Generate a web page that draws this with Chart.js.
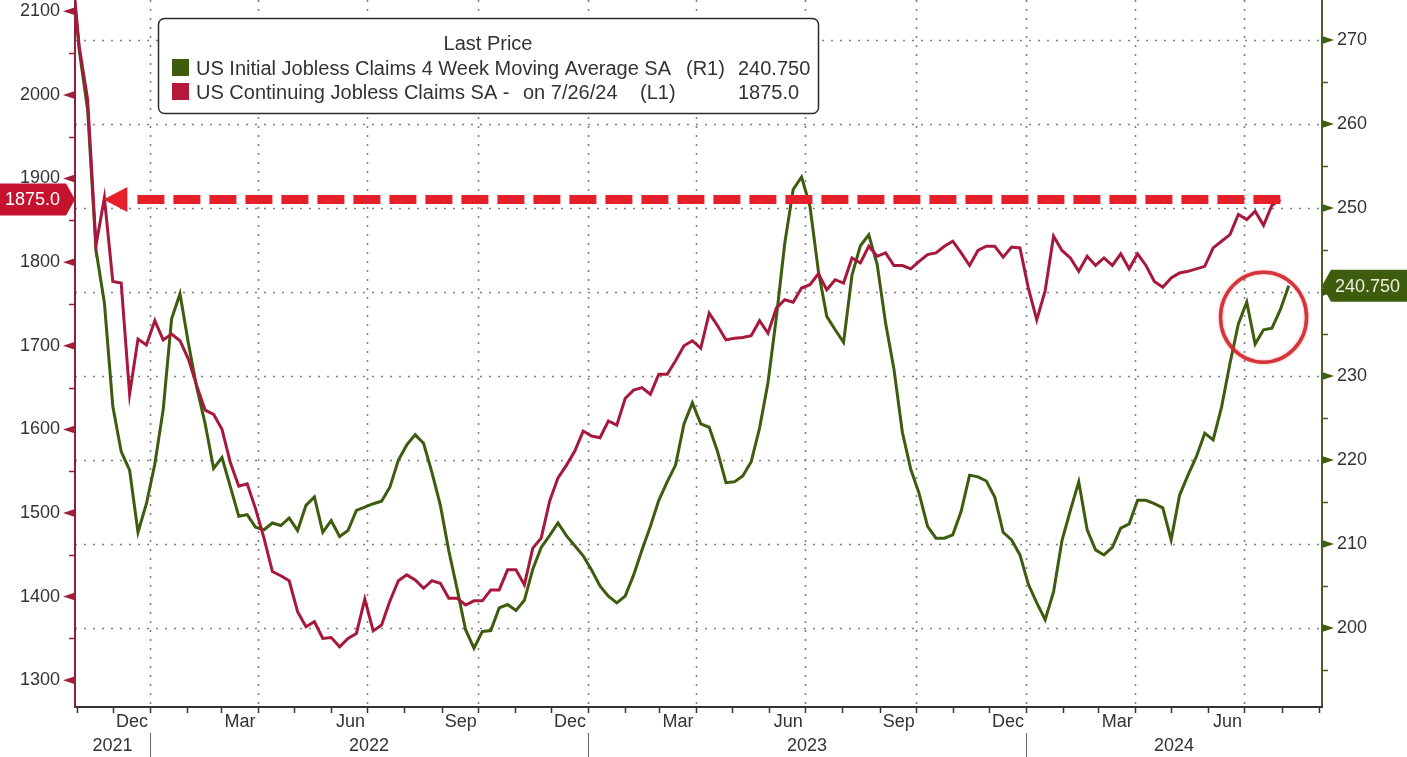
<!DOCTYPE html>
<html>
<head>
<meta charset="utf-8">
<title>US Jobless Claims</title>
<script src="https://cdn.jsdelivr.net/npm/chart.js@4.4.1/dist/chart.umd.min.js"></script>
<style>
  html, body { margin: 0; padding: 0; background: #fff; }
  #wrap { position: relative; width: 1407px; height: 757px; }
</style>
</head>
<body>
<div id="wrap"><canvas id="claimsChart" width="1407" height="757"></canvas></div>
<script>
// --- Data (weekly, first reading = week of 2021-10-27) ---
const START_DATE = Date.UTC(2021, 9, 27);

// US Continuing Jobless Claims SA (thousands, left axis L1)
const continuingClaims = [
  2165, 2058, 1995, 1820, 1877, 1777, 1775, 1642, 1708, 1701,
  1730, 1707, 1714, 1706, 1684, 1652, 1623, 1618, 1600, 1560,
  1532, 1535, 1505, 1470, 1430, 1425, 1419, 1382, 1364, 1370,
  1350, 1351, 1340, 1350, 1356, 1397, 1359, 1366, 1395, 1419,
  1426, 1420, 1410, 1419, 1416, 1398, 1398, 1390, 1395, 1395,
  1408, 1408, 1432, 1432, 1414, 1458, 1470, 1514, 1542, 1557,
  1574, 1598, 1592, 1590, 1610, 1605, 1637, 1647, 1650, 1642,
  1666, 1666, 1682, 1700, 1706, 1697, 1739, 1724, 1707, 1709,
  1710, 1712, 1730, 1715, 1745, 1755, 1752, 1769, 1773, 1786,
  1767, 1779, 1775, 1805, 1799, 1819, 1807, 1811, 1796, 1796,
  1792, 1801, 1809, 1811, 1819, 1825, 1811, 1796, 1814, 1819,
  1819, 1806, 1818, 1817, 1769, 1731, 1766, 1831, 1814, 1805,
  1789, 1807, 1796, 1805, 1796, 1810, 1792, 1810, 1796, 1777,
  1770, 1781, 1787, 1789, 1792, 1795, 1817, 1825, 1833, 1857,
  1851, 1861, 1844, 1868, 1875
];

// US Initial Jobless Claims 4 Week Moving Average SA (thousands, right axis R1)
const initialClaims4wk = [
  280.0, 268.8, 261.7, 245.0, 238.7, 226.4, 221.0, 218.8, 211.4, 214.8,
  219.5, 226.0, 236.8, 239.8, 233.9, 228.6, 224.3, 219.0, 220.3, 216.8,
  213.3, 213.5, 212.0, 211.7, 212.5, 212.2, 213.1, 211.6, 214.6, 215.6,
  211.4, 212.8, 210.9, 211.6, 214.0, 214.4, 214.8, 215.1, 216.8, 220.0,
  221.8, 223.0, 222.0, 218.5, 214.6, 209.2, 204.6, 199.8, 197.6, 199.6,
  199.7, 202.4, 202.8, 202.1, 203.3, 207.0, 209.6, 211.0, 212.5, 211.0,
  209.8, 208.6, 206.9, 205.0, 203.8, 203.0, 203.8, 206.3, 209.3, 212.1,
  215.2, 217.4, 219.4, 224.3, 226.8, 224.3, 223.9, 221.0, 217.3, 217.4,
  218.1, 219.8, 223.8, 229.2, 237.0, 245.8, 252.2, 253.7, 250.2, 242.5,
  237.1, 235.5, 234.0, 242.0, 245.5, 246.8, 243.3, 236.3, 230.8, 223.3,
  218.9, 216.0, 212.1, 210.7, 210.7, 211.1, 213.9, 218.2, 218.0, 217.5,
  215.6, 211.4, 210.5, 208.7, 205.2, 203.0, 201.0, 204.3, 210.4, 214.0,
  217.4, 211.7, 209.3, 208.7, 209.6, 211.9, 212.4, 215.2, 215.2, 214.8,
  214.3, 210.5, 215.8, 218.2, 220.4, 223.2, 222.4, 226.3, 231.5, 236.2,
  238.8, 233.8, 235.5, 235.7, 237.9, 240.75
];

const leftTicks = [1300, 1400, 1500, 1600, 1700, 1800, 1900, 2000, 2100];
const leftMinorTicks = [1350, 1450, 1550, 1650, 1750, 1850, 1950, 2050];
const rightTicks = [200, 210, 220, 230, 240, 250, 260, 270];
const rightMinorTicks = [195, 205, 215, 225, 235, 245, 255, 265];
const quarterMonthNames = { 2: 'Mar', 5: 'Jun', 8: 'Sep', 11: 'Dec' };
const yearLabels = ['2021', '2022', '2023', '2024'];

const legendTitle = 'Last Price';
const seriesNames = ['US Initial Jobless Claims 4 Week Moving Average SA', 'US Continuing Jobless Claims SA -'];
const seriesNotes = ['', 'on 7/26/24'];
const seriesAxes = ['(R1)', '(L1)'];

const ARROW_WEEK = 4;        // earlier week the dashed arrow points back to
const CIRCLE_WEEK = 142;     // annotation circle around the latest initial-claims move
const CIRCLE_LEVEL = 237;

// --- Styles ---
const GREEN = '#3d5c0e';
const RED = '#a6193c';
const FONT = '"Liberation Sans", Arial, sans-serif';
const WEEK = 7 * 24 * 3600 * 1000;
const X_MIN = Date.UTC(2021, 9, 30, 12);
const X_MAX = Date.UTC(2024, 8, 3, 17);

const weekDate = i => START_DATE + i * WEEK;
const lastRed = continuingClaims[continuingClaims.length - 1];
const lastGreen = initialClaims4wk[initialClaims4wk.length - 1];

function monthStarts() {
    const out = [];
    for (let y = 2021; y <= 2024; y++) {
        for (let m = 0; m < 12; m++) {
            const t = Date.UTC(y, m, 1);
            if (t >= X_MIN && t <= X_MAX) out.push({ t, y, m });
        }
    }
    return out;
}

// fixed axis widths, no extra room for half-labels at the ends
function fixWidth(w) {
    return axis => {
        axis.width = w;
        axis.paddingTop = 0;
        axis.paddingBottom = 0;
    };
}

const decorPlugin = {
    id: 'decor',
    beforeDatasetsDraw(chart) {
        const { ctx, chartArea: a, scales } = chart;
        ctx.save();
        ctx.strokeStyle = '#808080';
        ctx.lineWidth = 1.6;
        ctx.setLineDash([2, 7]);
        rightTicks.forEach(v => {
            const py = Math.round(scales.yR.getPixelForValue(v)) + 0.5;
            ctx.beginPath(); ctx.moveTo(a.left, py); ctx.lineTo(a.right, py); ctx.stroke();
        });
        monthStarts().filter(d => d.m % 3 === 0).forEach(d => {
            const px = Math.round(scales.x.getPixelForValue(d.t)) + 0.5;
            ctx.beginPath(); ctx.moveTo(px, a.top); ctx.lineTo(px, a.bottom); ctx.stroke();
        });
        ctx.restore();
    },
    afterDatasetsDraw(chart) {
        const { ctx, scales } = chart;
        const x = scales.x, yL = scales.yL, yR = scales.yR;
        ctx.save();
        // dashed level line back to the earlier reading
        const yA = yL.getPixelForValue(lastRed);
        const tipX = x.getPixelForValue(weekDate(ARROW_WEEK)) - 1;
        const endX = x.getPixelForValue(weekDate(continuingClaims.length - 1));
        ctx.fillStyle = '#e5202b';
        ctx.beginPath();
        ctx.moveTo(tipX, yA);
        ctx.lineTo(tipX + 24, yA - 12.5);
        ctx.lineTo(tipX + 24, yA + 12.5);
        ctx.closePath();
        ctx.fill();
        ctx.strokeStyle = '#e5202b';
        ctx.lineWidth = 9;
        ctx.setLineDash([27, 9]);
        ctx.beginPath();
        ctx.moveTo(tipX + 34, yA);
        ctx.lineTo(endX, yA);
        ctx.stroke();
        ctx.setLineDash([]);

        // circle
        const cx = x.getPixelForValue(weekDate(CIRCLE_WEEK));
        const cy = yR.getPixelForValue(CIRCLE_LEVEL);
        ctx.strokeStyle = 'rgba(208, 38, 44, 0.9)';
        ctx.lineWidth = 3.5;
        ctx.shadowColor = 'rgba(220, 60, 60, 0.5)';
        ctx.shadowBlur = 3;
        ctx.beginPath();
        ctx.ellipse(cx, cy, 43, 45, 0, 0, Math.PI * 2);
        ctx.stroke();
        ctx.restore();
    },
    afterDraw(chart) {
        const { ctx, chartArea: a, scales } = chart;
        const x = scales.x, yL = scales.yL, yR = scales.yR;
        ctx.save();

        // axis lines
        ctx.lineWidth = 2;
        ctx.strokeStyle = '#8e1f3b';
        ctx.beginPath(); ctx.moveTo(a.left, a.top); ctx.lineTo(a.left, a.bottom + 1); ctx.stroke();
        ctx.strokeStyle = '#4b5e23';
        ctx.beginPath(); ctx.moveTo(a.right, a.top); ctx.lineTo(a.right, a.bottom + 1); ctx.stroke();
        ctx.strokeStyle = '#333';
        ctx.beginPath(); ctx.moveTo(a.left, a.bottom); ctx.lineTo(a.right + 1, a.bottom); ctx.stroke();

        // left ticks
        ctx.fillStyle = '#a01e3c';
        leftTicks.forEach(v => {
            const py = yL.getPixelForValue(v);
            ctx.beginPath();
            ctx.moveTo(a.left, py - 4); ctx.lineTo(a.left, py + 4); ctx.lineTo(a.left - 12, py);
            ctx.closePath(); ctx.fill();
        });
        ctx.strokeStyle = '#8e1f3b';
        ctx.lineWidth = 1.5;
        leftMinorTicks.forEach(v => {
            const py = Math.round(yL.getPixelForValue(v)) + 0.5;
            ctx.beginPath(); ctx.moveTo(a.left - 6, py); ctx.lineTo(a.left, py); ctx.stroke();
        });
        // right ticks
        ctx.fillStyle = GREEN;
        rightTicks.forEach(v => {
            const py = yR.getPixelForValue(v);
            ctx.beginPath();
            ctx.moveTo(a.right, py - 4); ctx.lineTo(a.right, py + 4); ctx.lineTo(a.right + 12, py);
            ctx.closePath(); ctx.fill();
        });
        ctx.strokeStyle = '#4b5e23';
        rightMinorTicks.forEach(v => {
            const py = Math.round(yR.getPixelForValue(v)) + 0.5;
            ctx.beginPath(); ctx.moveTo(a.right, py); ctx.lineTo(a.right + 6, py); ctx.stroke();
        });

        // x axis: month ticks, quarter labels, years
        const months = monthStarts();
        ctx.strokeStyle = '#333';
        ctx.lineWidth = 1.5;
        months.forEach(d => {
            const px = Math.round(x.getPixelForValue(d.t)) + 0.5;
            ctx.beginPath(); ctx.moveTo(px, a.bottom); ctx.lineTo(px, a.bottom + 6); ctx.stroke();
        });
        ctx.fillStyle = '#333';
        ctx.font = '18px ' + FONT;
        ctx.textAlign = 'center';
        ctx.textBaseline = 'middle';
        for (let y = 2021; y <= 2024; y++) {
            Object.keys(quarterMonthNames).forEach(m => {
                const t = Date.UTC(y, +m, 17);
                if (t < X_MIN || t > X_MAX) return;
                ctx.fillText(quarterMonthNames[m], x.getPixelForValue(t), a.bottom + 15);
            });
        }
        const yearEdges = [a.left];
        months.filter(d => d.m === 0).forEach(d => yearEdges.push(x.getPixelForValue(d.t)));
        yearEdges.push(a.right);
        ctx.strokeStyle = '#666';
        ctx.lineWidth = 1;
        yearEdges.slice(1, -1).forEach(px => {
            const xx = Math.round(px) + 0.5;
            ctx.beginPath(); ctx.moveTo(xx, a.bottom + 26); ctx.lineTo(xx, a.bottom + 50); ctx.stroke();
        });
        yearLabels.forEach((lbl, i) => {
            ctx.fillText(lbl, (yearEdges[i] + yearEdges[i + 1]) / 2, a.bottom + 39);
        });

        // last value boxes
        const yRed = yL.getPixelForValue(lastRed);
        ctx.fillStyle = '#c4122f';
        ctx.beginPath();
        ctx.moveTo(0, yRed - 16); ctx.lineTo(a.left - 9, yRed - 16); ctx.lineTo(a.left, yRed);
        ctx.lineTo(a.left - 9, yRed + 16); ctx.lineTo(0, yRed + 16); ctx.closePath(); ctx.fill();
        ctx.fillStyle = '#fff';
        ctx.textAlign = 'left';
        ctx.fillText(lastRed.toFixed(1), 5, yRed + 1);

        const yGreen = yR.getPixelForValue(lastGreen);
        ctx.fillStyle = GREEN;
        ctx.beginPath();
        ctx.moveTo(a.right, yGreen); ctx.lineTo(a.right + 9, yGreen - 16); ctx.lineTo(1407, yGreen - 16);
        ctx.lineTo(1407, yGreen + 16); ctx.lineTo(a.right + 9, yGreen + 16); ctx.closePath(); ctx.fill();
        ctx.fillStyle = '#eef0dc';
        ctx.fillText(lastGreen.toFixed(3), a.right + 13, yGreen + 1);

        // legend
        const lx = 158, ly = 18, lw = 660, lh = 95;
        ctx.fillStyle = '#fff';
        ctx.strokeStyle = '#2a2a2a';
        ctx.lineWidth = 1.5;
        ctx.beginPath();
        ctx.roundRect(lx + 0.5, ly + 0.5, lw, lh, 6);
        ctx.fill(); ctx.stroke();
        ctx.fillStyle = '#333';
        ctx.font = '20px ' + FONT;
        ctx.textAlign = 'center';
        ctx.fillText(legendTitle, 488, 44);
        ctx.textAlign = 'left';
        const rowColors = [GREEN, '#b5183a'];
        const rowValues = [lastGreen.toFixed(3), lastRed.toFixed(1)];
        [68, 92].forEach((ry, i) => {
            ctx.fillStyle = rowColors[i];
            ctx.fillRect(172, ry - 9, 17, 17);
            ctx.fillStyle = '#333';
            ctx.fillText(seriesNames[i], 196, ry + 1);
            if (seriesNotes[i]) ctx.fillText(seriesNotes[i], 523, ry + 1);
            ctx.fillText(seriesAxes[i], i === 0 ? 686 : 640, ry + 1);
            ctx.fillText(rowValues[i], 738, ry + 1);
        });
        ctx.restore();
    }
};

document.addEventListener('DOMContentLoaded', function() {
    const canvas = document.getElementById('claimsChart');

    new Chart(canvas, {
        type: 'line',
        data: {
            datasets: [{
                label: seriesNames[1],
                data: continuingClaims.map((v, i) => ({ x: weekDate(i), y: v })),
                yAxisID: 'yL',
                borderColor: RED,
                borderWidth: 3,
                pointRadius: 0,
                tension: 0,
                order: 0
            }, {
                label: seriesNames[0],
                data: initialClaims4wk.map((v, i) => ({ x: weekDate(i), y: v })),
                yAxisID: 'yR',
                borderColor: GREEN,
                borderWidth: 3,
                pointRadius: 0,
                tension: 0,
                order: 1
            }]
        },
        options: {
            responsive: false,
            animation: false,
            devicePixelRatio: 1,
            layout: { padding: { top: 0, bottom: 50, left: 0, right: 0 } },
            plugins: { legend: { display: false }, tooltip: { enabled: false } },
            scales: {
                x: { type: 'linear', min: X_MIN, max: X_MAX, display: false },
                yL: {
                    position: 'left',
                    min: 1268,
                    max: 2113.5,
                    afterBuildTicks: axis => { axis.ticks = leftTicks.map(v => ({ value: v })); },
                    afterFit: fixWidth(75),
                    grid: { display: false, drawTicks: false },
                    border: { display: false },
                    ticks: { color: '#333', padding: 15, font: { size: 18, family: FONT }, callback: v => String(v) }
                },
                yR: {
                    position: 'right',
                    min: 190.6,
                    max: 274.76,
                    afterBuildTicks: axis => { axis.ticks = rightTicks.map(v => ({ value: v })); },
                    afterFit: fixWidth(85),
                    grid: { display: false, drawTicks: false },
                    border: { display: false },
                    ticks: { color: '#333', padding: 15, font: { size: 18, family: FONT }, callback: v => String(v) }
                }
            }
        },
        plugins: [decorPlugin]
    });
});
</script>
</body>
</html>
